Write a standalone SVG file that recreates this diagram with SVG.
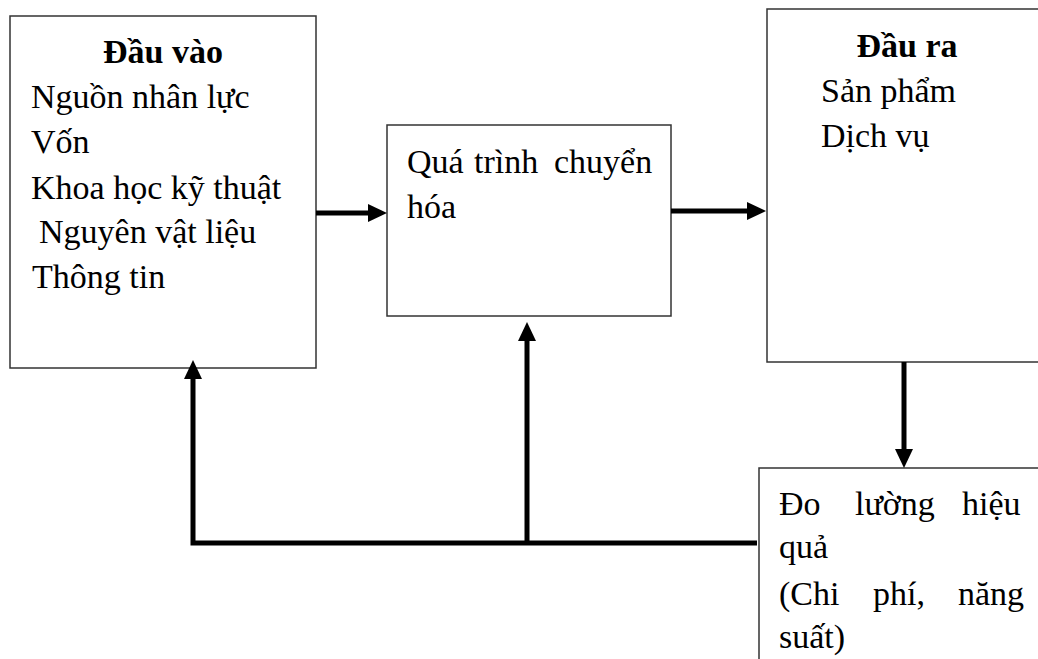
<svg xmlns="http://www.w3.org/2000/svg" width="1038" height="659" viewBox="0 0 1038 659">
<style>
.box{fill:#fff;stroke:#333;stroke-width:1.5}
.lbl{font-family:'Liberation Serif','Times New Roman',serif;font-size:34px;fill:#000}
.bold{font-weight:bold}
.c{fill:none;stroke:#000;stroke-width:5;stroke-linejoin:miter}
</style>
<defs>
<marker id="ah" markerUnits="userSpaceOnUse" markerWidth="20" markerHeight="18" refX="4" refY="9" orient="auto">
<path d="M0,0 L19,9 L0,18 z" fill="#000"/>
</marker>
</defs>
<rect width="1038" height="659" fill="#fff"/>
<g id="dau-vao">
<rect class="box" x="10" y="16" width="306" height="352"/>
<text class="lbl bold" x="163" y="63" text-anchor="middle">Đầu vào</text>
<text class="lbl" x="31" y="108">Nguồn nhân lực</text>
<text class="lbl" x="31" y="153">Vốn</text>
<text class="lbl" x="31" y="199">Khoa học kỹ thuật</text>
<text class="lbl" x="39" y="243">Nguyên vật liệu</text>
<text class="lbl" x="32" y="288">Thông tin</text>
</g>
<g id="qua-trinh">
<rect class="box" x="387" y="125" width="284" height="191"/>
<text class="lbl" y="173"><tspan x="407">Quá</tspan><tspan x="474">trình</tspan><tspan x="554">chuyển</tspan></text>
<text class="lbl" x="407" y="218">hóa</text>
</g>
<g id="dau-ra">
<rect class="box" x="767" y="9" width="290" height="353"/>
<text class="lbl bold" x="907" y="57" text-anchor="middle">Đầu ra</text>
<text class="lbl" x="821" y="102">Sản phẩm</text>
<text class="lbl" x="821" y="147">Dịch vụ</text>
</g>
<g id="do-luong">
<rect class="box" x="759" y="468" width="300" height="220"/>
<text class="lbl" y="515"><tspan x="779">Đo</tspan><tspan x="855">lường</tspan><tspan x="962">hiệu</tspan></text>
<text class="lbl" x="779" y="558">quả</text>
<text class="lbl" y="605"><tspan x="779">(Chi</tspan><tspan x="873">phí,</tspan><tspan x="958">năng</tspan></text>
<text class="lbl" x="779" y="648">suất)</text>
</g>
<g id="connectors">
<line class="c" x1="316" y1="213" x2="372" y2="213" marker-end="url(#ah)"/>
<line class="c" x1="671" y1="211" x2="751" y2="211" marker-end="url(#ah)"/>
<line class="c" x1="904" y1="362" x2="904" y2="453" marker-end="url(#ah)"/>
<polyline class="c" points="757,543 193,543 193,375" marker-end="url(#ah)"/>
<line class="c" x1="527" y1="543" x2="527" y2="337" marker-end="url(#ah)"/>
</g>
</svg>
